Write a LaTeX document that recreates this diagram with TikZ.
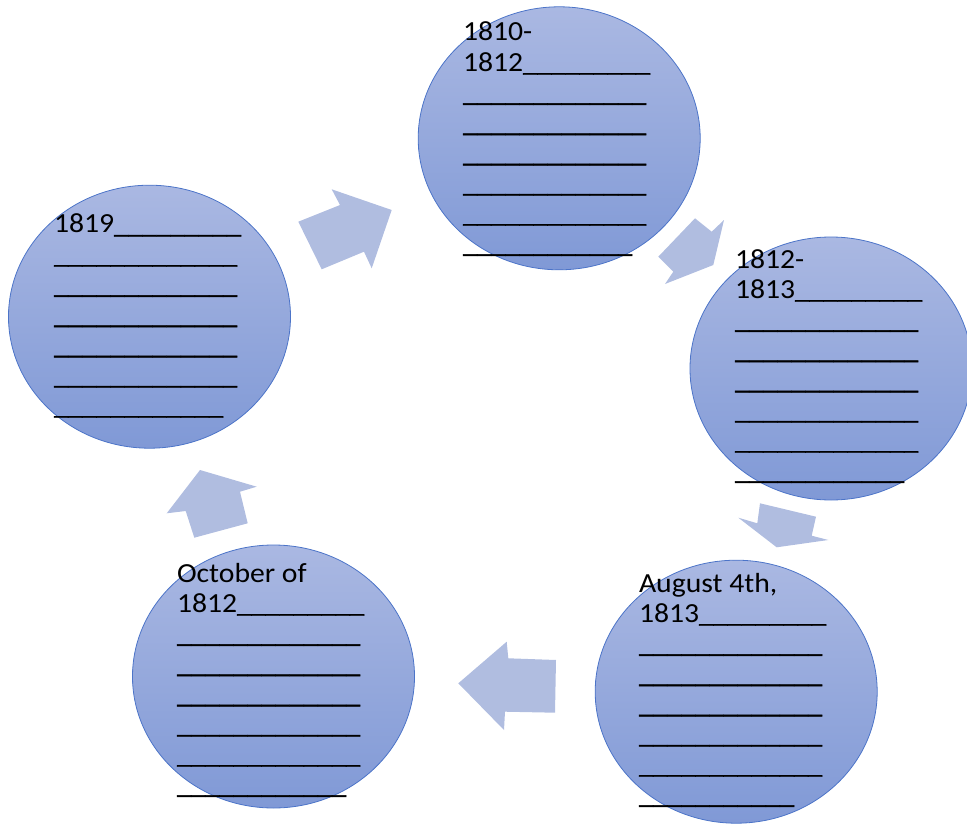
\documentclass[tikz,border=0pt]{standalone}
\usepackage{fontspec}
\setmainfont{Carlito}
\usepackage{graphicx}
\usetikzlibrary{shapes.geometric}
\definecolor{circtop}{RGB}{170,184,226}
\definecolor{circbot}{RGB}{128,153,214}
\definecolor{circline}{RGB}{76,116,200}
\definecolor{arrowfill}{RGB}{176,189,224}
\newcommand\ulfont{\fontsize{26.3pt}{30.2pt}\selectfont\addfontfeature{FakeBold=1.6}}
\newcommand\ulnine{{\ulfont\_\_\_\_\_\_\_\_\_}}
\newcommand\uleleven{{\ulfont\_\_\_\_\_\_\_\_\_\_\_}}
\newcommand\ultwelve{{\ulfont\_\_\_\_\_\_\_\_\_\_\_\_}}
\newcommand\ulthirteen{{\ulfont\_\_\_\_\_\_\_\_\_\_\_\_\_}}
\newcommand\notes[1]{\scalebox{1.076}[1]{\parbox[t]{200pt}{\fontsize{27.6pt}{30.2pt}\selectfont #1}}}
\tikzset{
  disc/.style={ellipse, inner sep=0pt, minimum width=282pt, minimum height=263pt,
    top color=circtop, bottom color=circbot, draw=circline, line width=0.8pt},
  notebox/.style={anchor=base west, inner sep=0pt, outer sep=0pt, text=black},
  blockarrow/.style={fill=arrowfill, draw=none}
}
\begin{document}
\begin{tikzpicture}[x=1pt,y=-1pt]
\useasboundingbox (0,0) rectangle (967,824);
% circles
\node[disc] (ctop) at (559.2,138.3) {};
\node[disc] (cright) at (831,368.5) {};
\node[disc] (cbr) at (736.2,691.7) {};
\node[disc] (cbl) at (273.5,676.5) {};
\node[disc] (cleft) at (149.5,316.7) {};
% block arrows
\fill[blockarrow] (298.3,221.7) -- (340,205) -- (331.7,189.3) -- (391.7,210) -- (371.7,268.3) -- (364,251.7) -- (321.7,269.3) -- cycle;
\fill[blockarrow] (658.3,256.7) -- (695,218.3) -- (711.7,231.7) -- (724,220) -- (713.3,265) -- (665,284) -- (673.3,271.7) -- cycle;
\fill[blockarrow] (738.3,517.7) -- (757.3,523.3) -- (760,503.3) -- (816,516.7) -- (811.7,535.7) -- (828.3,540) -- (776.7,547.3) -- cycle;
\fill[blockarrow] (458.3,683.3) -- (506.7,641.7) -- (508.3,658.3) -- (556,660) -- (555,712.7) -- (505,711.7) -- (504,730) -- cycle;
\fill[blockarrow] (200,470) -- (256.7,486.7) -- (240,491.7) -- (247.7,523.3) -- (194.3,537.7) -- (185.7,511) -- (166.7,513.3) -- cycle;
% texts
\node[notebox] (ttop) at (463,41) {\notes{1810-\\1812\ulnine\\\ulthirteen\\\ulthirteen\\\ulthirteen\\\ulthirteen\\\ulthirteen\\\ultwelve}};
\node[notebox] (tright) at (735,268) {\notes{1812-\\1813\ulnine\\\ulthirteen\\\ulthirteen\\\ulthirteen\\\ulthirteen\\\ulthirteen\\\ultwelve}};
\node[notebox] (tbr) at (639,592) {\notes{August 4th,\\1813\ulnine\\\ulthirteen\\\ulthirteen\\\ulthirteen\\\ulthirteen\\\ulthirteen\\\uleleven}};
\node[notebox] (tbl) at (177,582) {\notes{October of\\1812\ulnine\\\ulthirteen\\\ulthirteen\\\ulthirteen\\\ulthirteen\\\ulthirteen\\\ultwelve}};
\node[notebox] (tleft) at (54,233) {\notes{1819\ulnine\\\ulthirteen\\\ulthirteen\\\ulthirteen\\\ulthirteen\\\ulthirteen\\\ultwelve}};
\end{tikzpicture}
\end{document}
